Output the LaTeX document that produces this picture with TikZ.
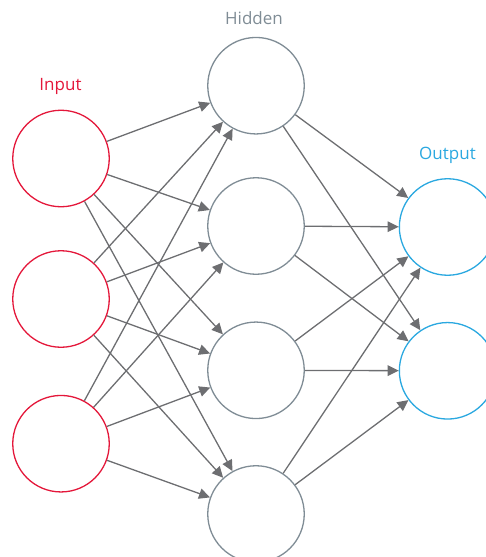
\documentclass[tikz,border=0pt]{standalone}
\usepackage{fontspec}
\setmainfont{Open Sans}
\usetikzlibrary{arrows.meta}
\definecolor{inred}{HTML}{E4173A}
\definecolor{hidgray}{HTML}{7F8C95}
\definecolor{outblue}{HTML}{2AA8E0}
\definecolor{edgegray}{HTML}{6D6E71}
\tikzset{
  neuron/.style={circle,draw,line width=1.3pt,minimum size=96.5pt,inner sep=0pt,fill=white},
  innode/.style={neuron,draw=inred},
  hidnode/.style={neuron,draw=hidgray},
  outnode/.style={neuron,draw=outblue},
  edge/.style={draw=edgegray,line width=1.3pt,-{Triangle[length=11pt,width=10.5pt]}},
  lbl/.style={font=\fontsize{17}{20}\selectfont,inner sep=0pt}
}
\begin{document}
\begin{tikzpicture}[x=1pt,y=-1pt]
\useasboundingbox (0,0) rectangle (486,557);
\node[innode] (i1) at (61,158.5) {};
\node[innode] (i2) at (61,299) {};
\node[innode] (i3) at (61,443.7) {};
\node[hidnode] (h1) at (256,85.7) {};
\node[hidnode] (h2) at (256,226) {};
\node[hidnode] (h3) at (256,370.3) {};
\node[hidnode] (h4) at (256,514) {};
\node[outnode] (o1) at (447.6,227) {};
\node[outnode] (o2) at (447.6,370.8) {};
\node[lbl,text=inred] (tin) at (60.5,86) {Input};
\node[lbl,text=hidgray] (thid) at (254,18) {Hidden};
\node[lbl,text=outblue] (tout) at (447.5,155) {Output};
\foreach \i in {i1,i2,i3}{
  \foreach \h in {h1,h2,h3,h4}{
    \draw[edge] (\i) -- (\h);
  }
}
\foreach \h in {h1,h2,h3,h4}{
  \foreach \o in {o1,o2}{
    \draw[edge] (\h) -- (\o);
  }
}
\end{tikzpicture}
\end{document}
